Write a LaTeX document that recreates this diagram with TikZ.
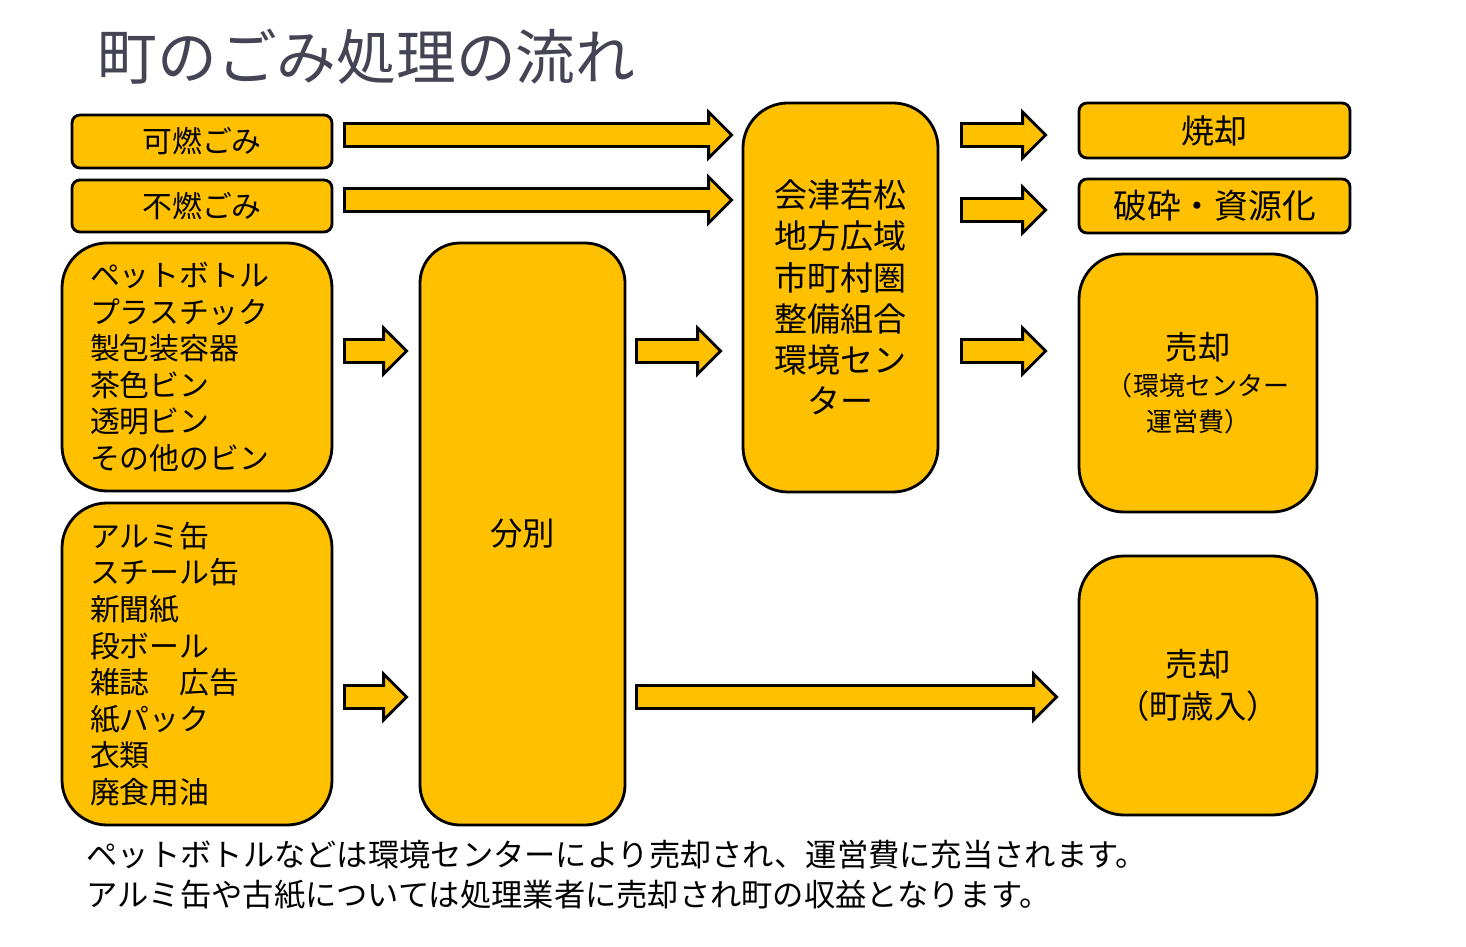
\documentclass[tikz,border=0pt]{standalone}
\usepackage{fontspec}
\setmainfont{Noto Sans CJK JP}
\usetikzlibrary{calc}
\definecolor{gold}{RGB}{255,192,0}
\definecolor{titlegray}{RGB}{68,68,84}
\tikzset{
    box/.style={draw=black,fill=gold,line width=0.8pt,rounded corners=0.8mm,inner sep=0pt,align=center},
    bigbox/.style={box,rounded corners=4.5mm},
    listbox/.style={bigbox,align=left,text width=21.4mm,inner xsep=2.8mm},
    blockarrow/.style={draw=black,fill=gold,line width=0.8pt,line join=miter}
}
% block arrow from one point to another (horizontal)
\newcommand{\barrow}[2]{%
    \draw[blockarrow] let \p1=(#1), \p2=(#2) in
        (\x1,\y1+\sh) -- (\x2-\hl,\y1+\sh) -- (\x2-\hl,\y1+\hh) -- (\x2,\y1)
        -- (\x2-\hl,\y1-\hh) -- (\x2-\hl,\y1-\sh) -- (\x1,\y1-\sh) -- cycle;}
\begin{document}
\begin{tikzpicture}[x=0.1mm,y=-0.1mm,font=\fontsize{8.5}{10.4}\selectfont]
                \def\sh{1.15mm} \def\hh{2.3mm} \def\hl{2.3mm}
                \useasboundingbox (0,0) rectangle (1466,947);
                \node[anchor=west,inner sep=0pt,text=titlegray,font=\fontsize{17}{20}\selectfont] (title) at (97,57) {町のごみ処理の流れ};
                %===========================================
                \node[box,minimum width=26mm,minimum height=5.3mm] (kanen) at (202,141.5) {可燃ごみ};
                \node[box,minimum width=26mm,minimum height=5.2mm] (funen) at (202,206) {不燃ごみ};
                \node[listbox,minimum height=24.8mm] (pet) at (197,367) {ペットボトル\\プラスチック\\製包装容器\\茶色ビン\\透明ビン\\その他のビン};
                \node[listbox,minimum height=32.2mm] (alumi) at (197,664) {アルミ缶\\スチール缶\\新聞紙\\段ボール\\雑誌　広告\\紙パック\\衣類\\廃食用油};
                \node[bigbox,rounded corners=4mm,minimum width=20.5mm,minimum height=58.2mm,font=\fontsize{9.2}{11}\selectfont] (bunbetsu) at (522.5,534) {分別};
                \node[bigbox,minimum width=19.5mm,minimum height=38.9mm,font=\fontsize{9.4}{11.7}\selectfont] (kumiai) at (840.5,297.5) {会津若松\\地方広域\\市町村圏\\整備組合\\環境セン\\ター};
                \node[box,minimum width=27.1mm,minimum height=5.5mm,font=\fontsize{9.4}{11}\selectfont] (shokyaku) at (1214.5,130.5) {焼却};
                \node[box,minimum width=27.1mm,minimum height=5.4mm,font=\fontsize{9.6}{11}\selectfont] (hasai) at (1214.5,206) {破砕・資源化};
                \node[bigbox,minimum width=23.8mm,minimum height=25.8mm,font=\fontsize{9.2}{10.2}\selectfont] (baikyakua) at (1198,383) {売却\\{\fontsize{7.4}{9.6}\selectfont（環境センター}\\{\fontsize{7.4}{9.6}\selectfont 運営費）}};
                \node[bigbox,minimum width=23.8mm,minimum height=25.9mm,font=\fontsize{9.2}{12}\selectfont] (baikyakub) at (1198,685.5) {売却\\（町歳入）};
                %===========================================
                \foreach \na/\ga/\nb/\gb/\yy in {kanen/11/kumiai/10/135, funen/11/kumiai/10/200,
                        pet/11/bunbetsu/12/351, alumi/11/bunbetsu/12/697,
                        bunbetsu/10/kumiai/21/351, bunbetsu/10/baikyakub/21/697,
                        kumiai/22/shokyaku/32/135, kumiai/22/hasai/32/210, kumiai/22/baikyakua/32/351}{
                    \path (\na.east |- 0,\yy) ++(\ga,0) coordinate (s);
                    \path (\nb.west |- 0,\yy) ++(-\gb,0) coordinate (e);
                    \barrow{s}{e}
                }
                \node[anchor=west,inner sep=0pt,align=left,font=\fontsize{8.9}{11.4}\selectfont] (note) at (86,875) {ペットボトルなどは環境センターにより売却され、運営費に充当されます。\\アルミ缶や古紙については処理業者に売却され町の収益となります。};
            \end{tikzpicture}
\end{document}
